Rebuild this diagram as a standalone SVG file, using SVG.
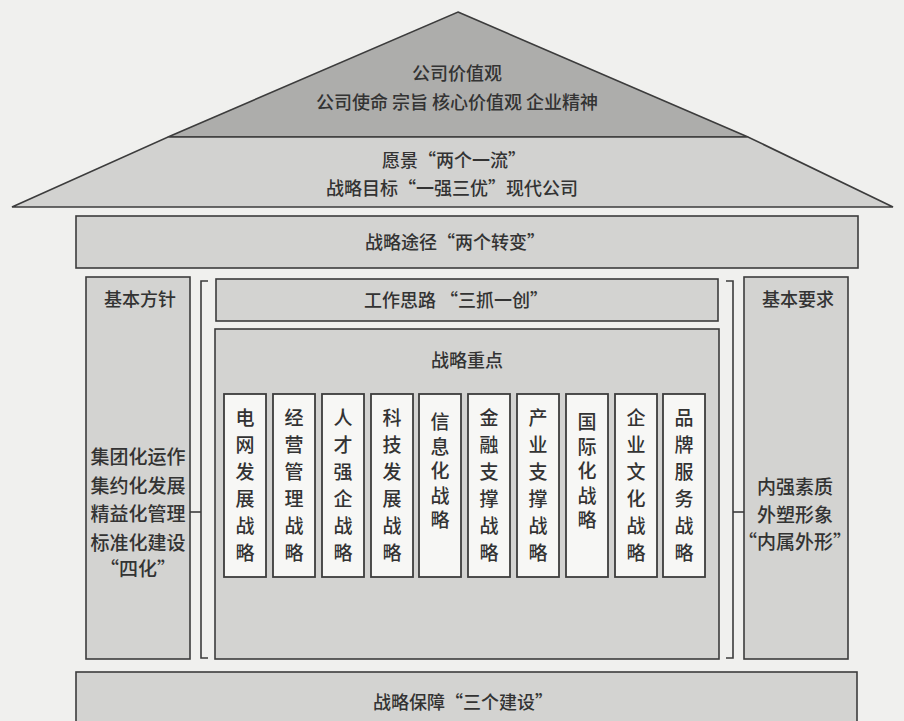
<svg xmlns="http://www.w3.org/2000/svg" width="904" height="721" viewBox="0 0 904 721">
<style>
  .bg{fill:#f0f0ee}
  .box{fill:#d3d3d1;stroke:#3c3c3c;stroke-width:1.6}
  .roof{fill:#adadab;stroke:#3c3c3c;stroke-width:1.6}
  .eave{fill:#d2d2d0;stroke:#3c3c3c;stroke-width:1.6}
  .col{fill:#f7f7f5;stroke:#3c3c3c;stroke-width:1.8}
  .br{fill:none;stroke:#3c3c3c;stroke-width:1.6}
  text{font-family:"Noto Sans CJK SC","Noto Sans CJK JP",sans-serif;fill:#333;text-anchor:middle;font-size:18px;font-weight:500}
  .ct{font-size:19px}
</style>
<rect class="bg" x="0" y="0" width="904" height="721"/>

<g id="values">
  <polygon class="roof" points="458,12 748,137 168,137"/>
  <text x="457" y="80">公司价值观</text>
  <text x="457" y="109">公司使命 宗旨 核心价值观 企业精神</text>
</g>
<g id="vision">
  <polygon class="eave" points="168,137 748,137 893,207 12,207"/>
  <text x="454" y="167">愿景“两个一流”</text>
  <text x="452" y="195">战略目标“一强三优”现代公司</text>
</g>
<g id="path">
  <rect class="box" x="76" y="216" width="782" height="52"/>
  <text x="455" y="249">战略途径“两个转变”</text>
</g>
<g id="principle">
  <rect class="box" x="86" y="277" width="104" height="382"/>
  <text x="140" y="306">基本方针</text>
  <text x="138" y="464" class="ct">集团化运作</text>
  <text x="138" y="493" class="ct">集约化发展</text>
  <text x="138" y="521" class="ct">精益化管理</text>
  <text x="138" y="550" class="ct">标准化建设</text>
  <text x="138" y="576" class="ct">“四化”</text>
</g>
<g id="requirement">
  <rect class="box" x="744" y="277" width="104" height="382"/>
  <text x="798" y="306">基本要求</text>
  <text x="795" y="494" class="ct">内强素质</text>
  <text x="795" y="522" class="ct">外塑形象</text>
  <text x="795" y="549" class="ct">“内属外形”</text>
</g>
<g id="work">
  <rect class="box" x="216" y="279" width="502" height="42"/>
  <text x="456" y="307">工作思路 “三抓一创”</text>
</g>
<g id="focus">
  <rect class="box" x="215" y="329" width="504" height="330"/>
  <text x="467" y="367">战略重点</text>
</g>
<g id="s1"><rect class="col" x="224" y="394" width="42" height="183"/>
  <text class="ct" x="245"><tspan x="245" y="425">电</tspan><tspan x="245" dy="27">网</tspan><tspan x="245" dy="27">发</tspan><tspan x="245" dy="27">展</tspan><tspan x="245" dy="27">战</tspan><tspan x="245" dy="27">略</tspan></text></g>
<g id="s2"><rect class="col" x="273" y="394" width="42" height="183"/>
  <text class="ct" x="294"><tspan x="294" y="425">经</tspan><tspan x="294" dy="27">营</tspan><tspan x="294" dy="27">管</tspan><tspan x="294" dy="27">理</tspan><tspan x="294" dy="27">战</tspan><tspan x="294" dy="27">略</tspan></text></g>
<g id="s3"><rect class="col" x="322" y="394" width="42" height="183"/>
  <text class="ct" x="343"><tspan x="343" y="425">人</tspan><tspan x="343" dy="27">才</tspan><tspan x="343" dy="27">强</tspan><tspan x="343" dy="27">企</tspan><tspan x="343" dy="27">战</tspan><tspan x="343" dy="27">略</tspan></text></g>
<g id="s4"><rect class="col" x="371" y="394" width="42" height="183"/>
  <text class="ct" x="392"><tspan x="392" y="425">科</tspan><tspan x="392" dy="27">技</tspan><tspan x="392" dy="27">发</tspan><tspan x="392" dy="27">展</tspan><tspan x="392" dy="27">战</tspan><tspan x="392" dy="27">略</tspan></text></g>
<g id="s5"><rect class="col" x="419" y="394" width="42" height="183"/>
  <text class="ct" x="440"><tspan x="440" y="429">信</tspan><tspan x="440" dy="24.5">息</tspan><tspan x="440" dy="24.5">化</tspan><tspan x="440" dy="24.5">战</tspan><tspan x="440" dy="24.5">略</tspan></text></g>
<g id="s6"><rect class="col" x="468" y="394" width="42" height="183"/>
  <text class="ct" x="489"><tspan x="489" y="425">金</tspan><tspan x="489" dy="27">融</tspan><tspan x="489" dy="27">支</tspan><tspan x="489" dy="27">撑</tspan><tspan x="489" dy="27">战</tspan><tspan x="489" dy="27">略</tspan></text></g>
<g id="s7"><rect class="col" x="517" y="394" width="42" height="183"/>
  <text class="ct" x="538"><tspan x="538" y="425">产</tspan><tspan x="538" dy="27">业</tspan><tspan x="538" dy="27">支</tspan><tspan x="538" dy="27">撑</tspan><tspan x="538" dy="27">战</tspan><tspan x="538" dy="27">略</tspan></text></g>
<g id="s8"><rect class="col" x="566" y="394" width="42" height="183"/>
  <text class="ct" x="587"><tspan x="587" y="429">国</tspan><tspan x="587" dy="24.5">际</tspan><tspan x="587" dy="24.5">化</tspan><tspan x="587" dy="24.5">战</tspan><tspan x="587" dy="24.5">略</tspan></text></g>
<g id="s9"><rect class="col" x="615" y="394" width="42" height="183"/>
  <text class="ct" x="636"><tspan x="636" y="425">企</tspan><tspan x="636" dy="27">业</tspan><tspan x="636" dy="27">文</tspan><tspan x="636" dy="27">化</tspan><tspan x="636" dy="27">战</tspan><tspan x="636" dy="27">略</tspan></text></g>
<g id="s10"><rect class="col" x="663" y="394" width="42" height="183"/>
  <text class="ct" x="684"><tspan x="684" y="425">品</tspan><tspan x="684" dy="27">牌</tspan><tspan x="684" dy="27">服</tspan><tspan x="684" dy="27">务</tspan><tspan x="684" dy="27">战</tspan><tspan x="684" dy="27">略</tspan></text></g>

<g id="guarantee">
  <rect class="box" x="76" y="672" width="781" height="60"/>
  <text x="463" y="709">战略保障“三个建设”</text>
</g>

<g id="connectors">
  <path class="br" d="M208,281 H201 V658 H208"/>
  <path class="br" d="M190,512 H201"/>
  <path class="br" d="M726,281 H733 V658 H726"/>
  <path class="br" d="M733,512 H744"/>
</g>
</svg>
